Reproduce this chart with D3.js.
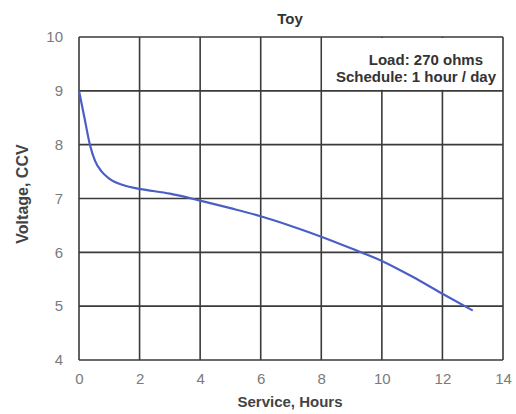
<!DOCTYPE html>
<html>
<head>
<meta charset="utf-8">
<script src="https://cdn.jsdelivr.net/npm/d3@7"></script>
<style>
  html, body { margin: 0; padding: 0; background: #fff; }
  svg { display: block; }
</style>
</head>
<body>
<svg id="chart" width="516" height="414"></svg>
<script>
// ---- data ----
const hours   = [0, 0.18, 0.36, 0.53, 0.75, 1.0, 1.5, 2.0, 3.0, 4.0, 5.0, 6.0, 7.0, 8.0, 9.0, 10.0, 11.0, 12.0, 13.0];
const voltage = [9.0, 8.5, 8.0, 7.7, 7.5, 7.37, 7.24, 7.18, 7.09, 6.96, 6.82, 6.67, 6.49, 6.29, 6.07, 5.84, 5.55, 5.23, 4.92];
const xTicks = [0, 2, 4, 6, 8, 10, 12, 14];
const yTicks = [4, 5, 6, 7, 8, 9, 10];
const title = "Toy";
const xLabel = "Service, Hours";
const yLabel = "Voltage, CCV";
const noteLines = ["Load: 270 ohms", "Schedule: 1 hour / day"];

// ---- layout ----
const svg = d3.select("#chart");
const L = 79, R = 503, T = 37, B = 360;
const x = d3.scaleLinear().domain([0, 14]).range([L, R]);
const y = d3.scaleLinear().domain([4, 10]).range([B, T]);
const font = "'Liberation Sans', Arial, sans-serif";
const gridColor = "#3a3a3a";

const g = svg.append("g");

// gridlines
g.selectAll("line.vx").data(xTicks).join("line")
  .attr("x1", d => x(d)).attr("x2", d => x(d))
  .attr("y1", y(4)).attr("y2", y(10))
  .attr("stroke", gridColor).attr("stroke-width", 1.6);
g.selectAll("line.hy").data(yTicks).join("line")
  .attr("x1", x(0)).attr("x2", x(14))
  .attr("y1", d => y(d)).attr("y2", d => y(d))
  .attr("stroke", gridColor).attr("stroke-width", 1.6);

// note box (covers grid in upper right)
g.append("rect")
  .attr("x", x(8) + 1).attr("y", y(10) + 1)
  .attr("width", x(14) - x(8) - 2).attr("height", y(9) - y(10) - 2)
  .attr("fill", "#fff");

// axes (tick labels only)
const xAxis = d3.axisBottom(x).tickValues(xTicks).tickFormat(d3.format("d")).tickSize(0).tickPadding(13);
const yAxis = d3.axisLeft(y).tickValues(yTicks).tickFormat(d3.format("d")).tickSize(0).tickPadding(16);
const gx = svg.append("g").attr("transform", `translate(0,${B})`).call(xAxis);
const gy = svg.append("g").attr("transform", `translate(${L},0)`).call(yAxis);
[gx, gy].forEach(a => {
  a.select(".domain").remove();
  a.selectAll("text").attr("font-family", font).attr("font-size", 15).attr("fill", "#7a7a7a");
});

// curve
const pts = hours.map((h, i) => [h, voltage[i]]);
svg.append("path")
  .datum(pts)
  .attr("fill", "none")
  .attr("stroke", "#4a5fc6")
  .attr("stroke-width", 2.2)
  .attr("stroke-linejoin", "round")
  .attr("d", d3.line().x(d => x(d[0])).y(d => y(d[1])).curve(d3.curveMonotoneX));

// title
svg.append("text").attr("x", 290).attr("y", 24)
  .attr("text-anchor", "middle").attr("font-family", font).attr("font-weight", "bold")
  .attr("font-size", 15).attr("fill", "#333").text(title);

// note text
svg.append("text").attr("x", 483).attr("y", 65)
  .attr("text-anchor", "end").attr("font-family", font).attr("font-weight", "bold")
  .attr("font-size", 15).attr("fill", "#333").text(noteLines[0]);
svg.append("text").attr("x", 496).attr("y", 82)
  .attr("text-anchor", "end").attr("font-family", font).attr("font-weight", "bold")
  .attr("font-size", 15).attr("fill", "#333").text(noteLines[1]);

// axis labels
svg.append("text").attr("x", 290).attr("y", 407)
  .attr("text-anchor", "middle").attr("font-family", font).attr("font-weight", "bold")
  .attr("font-size", 15).attr("fill", "#444").text(xLabel);
svg.append("text")
  .attr("transform", "translate(28,194) rotate(-90)")
  .attr("text-anchor", "middle").attr("font-family", font).attr("font-weight", "bold")
  .attr("font-size", 16).attr("fill", "#444").text(yLabel);
</script>
</body>
</html>
